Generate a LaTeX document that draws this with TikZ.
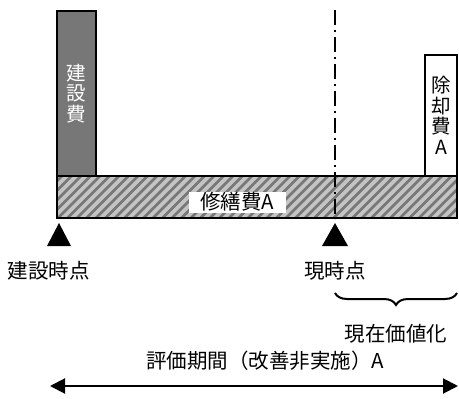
\documentclass[tikz,border=0pt]{standalone}
\usepackage{fontspec}
\setmainfont{Noto Sans CJK JP}
\usetikzlibrary{arrows.meta,decorations.pathreplacing}
\definecolor{barGray}{HTML}{777777}
\definecolor{hatchBg}{HTML}{C4C4C4}
\definecolor{hatchLine}{HTML}{777777}
\begin{document}
\begin{tikzpicture}[x=1pt,y=-1pt,
  box/.style={draw=black,line width=2pt,inner sep=0pt,outer sep=0pt},
  lbl/.style={font=\fontsize{20.5}{22}\selectfont,inner sep=0pt},
  vlbl/.style={font=\fontsize{19.5}{20.5}\selectfont,align=center,inner sep=0pt},
  marker/.style={fill=black},
]
\useasboundingbox (0,0) rectangle (459,399);
% repair bar
\node[box,fill=hatchBg,minimum width=400pt,minimum height=42pt] (rep) at (257,197) {};
\begin{scope}
  \clip (rep.south west) rectangle (rep.north east);
  \foreach \i in {0,...,46}{
    \draw[hatchLine,line width=2.6pt] (20+\i*9.5,218) -- (62+\i*9.5,176);
  }
\end{scope}
\draw[line width=2pt] (rep.south west) rectangle (rep.north east);
% construction cost bar
\node[box,fill=barGray,minimum width=39pt,minimum height=165pt,text=white,vlbl] (con) at (76.5,93.5) {建\\設\\費};
% removal bar
\node[box,fill=white,minimum width=32pt,minimum height=121pt,vlbl] (rem) at (441,115.5) {除\\却\\費\\A};
% label
\node[fill=white,lbl,minimum width=97pt,minimum height=21pt] (replbl) at (237,202) {修繕費A};
% current point line
\coordinate (ctop) at (335,10);
\coordinate (cbot) at (335,219);
\draw[line width=2.2pt,dash pattern=on 15pt off 5pt on 2pt off 5pt] (ctop) -- (cbot);
% markers
\coordinate (m1) at (59,223);
\coordinate (m2) at (335,223);
\fill[marker] (m1) -- ++(12,23) -- ++(-24,0) -- cycle;
\fill[marker] (m2) -- ++(13,23) -- ++(-26,0) -- cycle;
\node[lbl] (t1) at (49,271) {建設時点};
\node[lbl] (t2) at (335,271) {現時点};
% brace
\coordinate (br) at (457,293);
\coordinate (bl) at (335,293);
\draw[line width=2pt,decorate,decoration={brace,amplitude=12pt}] (br) -- (bl);
\node[lbl] (pv) at (396,334) {現在価値化};
% evaluation period
\node[lbl] (ev) at (265,361) {評価期間（改善非実施）A};
\coordinate (al) at (50,386);
\coordinate (ar) at (458,386);
\draw[line width=2pt,{Triangle[length=15pt,width=15pt]}-{Triangle[length=15pt,width=15pt]}] (al) -- (ar);
\end{tikzpicture}
\end{document}
